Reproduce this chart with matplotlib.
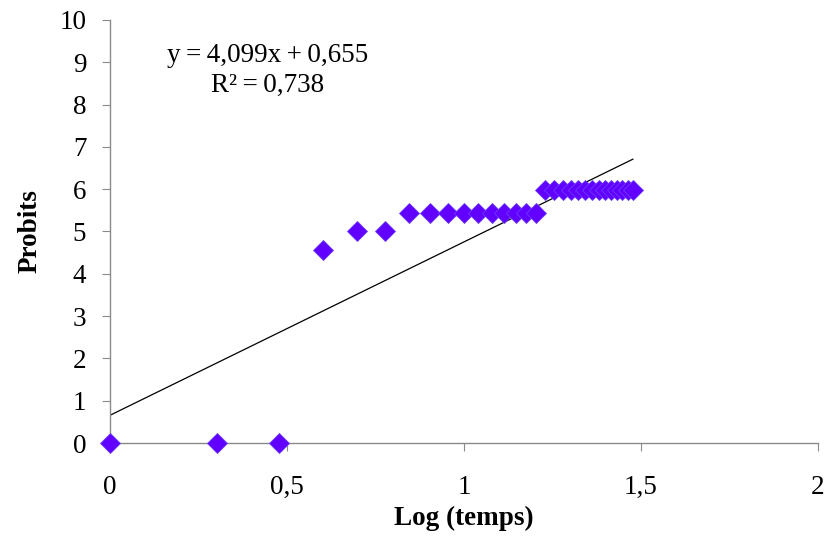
import numpy as np
import matplotlib
matplotlib.use("Agg")
import matplotlib.pyplot as plt

# Data: log10(time) and probit values
log_temps = [0.0, 0.301, 0.477, 0.602, 0.699, 0.778, 0.845, 0.903, 0.954, 1.0,
             1.041, 1.079, 1.114, 1.146, 1.176, 1.204, 1.230, 1.255, 1.279, 1.301,
             1.322, 1.342, 1.362, 1.380, 1.398, 1.415, 1.431, 1.447, 1.462, 1.477]
probits = [0.0, 0.0, 0.0, 4.57, 5.0, 5.0, 5.43, 5.43, 5.43, 5.43,
           5.43, 5.43, 5.43, 5.43, 5.43, 5.43, 5.97, 5.97, 5.97, 5.97,
           5.97, 5.97, 5.97, 5.97, 5.97, 5.97, 5.97, 5.97, 5.97, 5.97]
slope = 4.099
intercept = 0.655
r2 = 0.738

plt.rcParams['font.family'] = ['Liberation Serif', 'DejaVu Serif']

fig = plt.figure(figsize=(8.25, 5.36), dpi=100)
ax = fig.add_axes([0.1333, 0.1735, 0.8582, 0.7892])

x = np.array(log_temps)
ax.plot(x, probits, linestyle='none', marker='D', markersize=10,
        color='#6200ff', markeredgecolor='#6a3cff', markeredgewidth=0.6,
        zorder=3, clip_on=False)

xl = np.array([0.0, max(log_temps)])
ax.plot(xl, slope * xl + intercept, color='black', linewidth=0.9, zorder=2)

ax.set_xlim(0, 2)
ax.set_ylim(0, 10)
ax.set_xticks([0, 0.5, 1, 1.5, 2])
ax.set_xticklabels(['0', '0,5', '1', '1,5', '2'])
ax.set_yticks(range(0, 11))

for s in ['top', 'right']:
    ax.spines[s].set_visible(False)
for s in ['left', 'bottom']:
    ax.spines[s].set_color('#8a8a8a')
    ax.spines[s].set_linewidth(1.0)

ax.tick_params(axis='both', colors='#8a8a8a', labelcolor='black',
               labelsize=19.5, direction='out', length=6)
ax.tick_params(axis='x', pad=17)
ax.tick_params(axis='y', pad=11)

ax.set_xlabel('Log (temps)', fontsize=19.5, fontweight='bold', labelpad=4)
ax.set_ylabel('Probits', fontsize=19.5, fontweight='bold', labelpad=12)

eq = f'y\u2009=\u20094,099x\u2009+\u20090,655'
r2txt = f'R²\u2009=\u20090,738'
ax.text(0.446, 9.17, eq, ha='center', va='center', fontsize=19.5)
ax.text(0.446, 8.46, r2txt, ha='center', va='center', fontsize=19.5)

fig.savefig('out.png', dpi=100)
